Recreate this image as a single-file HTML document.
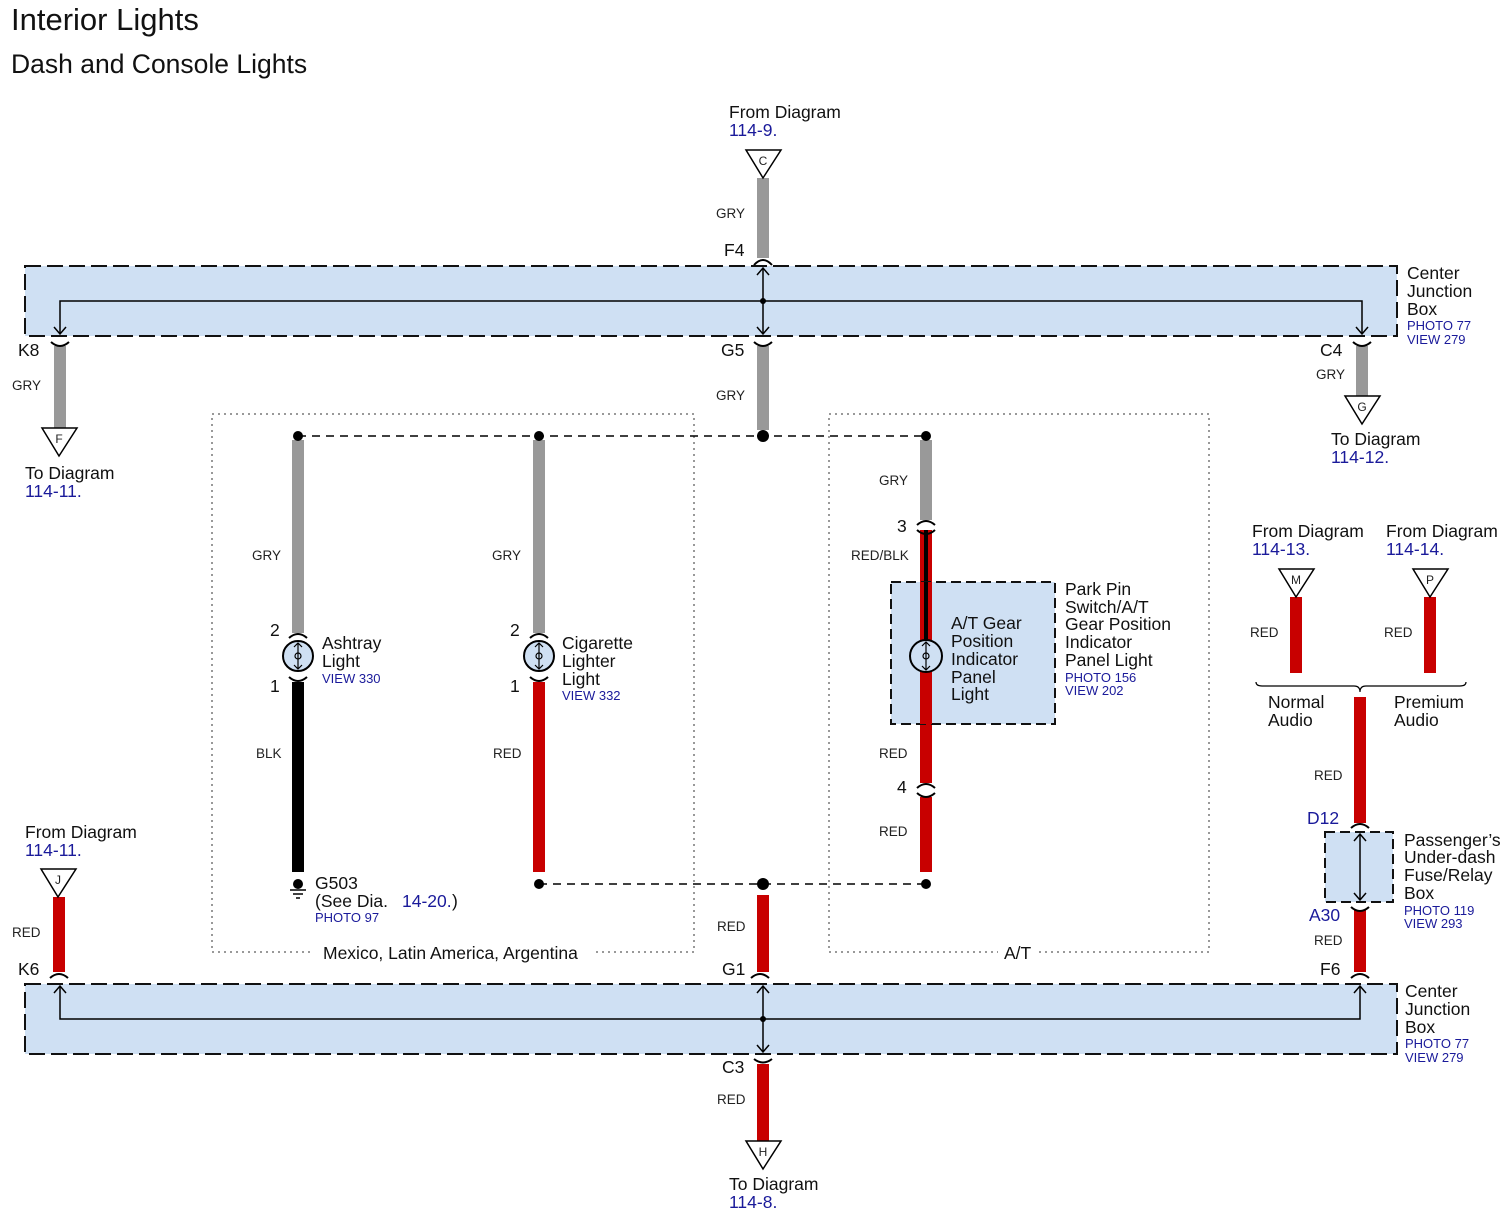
<!DOCTYPE html>
<html><head><meta charset="utf-8"><style>
body{margin:0;background:#fff}
svg{display:block;font-family:"Liberation Sans",Arial,sans-serif}
.t{font-size:17.5px;fill:#111}
.w{font-size:13.5px;fill:#222}
.b{font-size:13px;fill:#1a1a9a}
.bl{font-size:17.5px;fill:#1a1a9a}
</style></head><body>
<svg width="1510" height="1223" viewBox="0 0 1510 1223">
<text x="11" y="30" style="font-size:31px" fill="#111">Interior Lights</text>
<text x="11" y="73" style="font-size:26.5px" fill="#111">Dash and Console Lights</text>

<rect x="25" y="266" width="1372" height="70" fill="#cfe0f3" stroke="#111" stroke-width="2" stroke-dasharray="16,6"/>
<path d="M60,334 V301 H1362 V334" fill="none" stroke="#000" stroke-width="1.5"/>
<path d="M54,327 L60,334 L66,327 M1356,327 L1362,334 L1368,327" fill="none" stroke="#000" stroke-width="1.5"/>
<line x1="763" y1="268" x2="763" y2="334" stroke="#000" stroke-width="1.5"/>
<path d="M757,275 L763,268 L769,275 M757,327 L763,334 L769,327" fill="none" stroke="#000" stroke-width="1.5"/>
<circle cx="763" cy="301" r="3"/>
<text x="1407" y="279" class="t">Center</text><text x="1407" y="297" class="t">Junction</text><text x="1407" y="315" class="t">Box</text>
<text x="1407" y="330" class="b">PHOTO 77</text><text x="1407" y="344" class="b">VIEW 279</text>

<rect x="25" y="984" width="1372" height="70" fill="#cfe0f3" stroke="#111" stroke-width="2" stroke-dasharray="16,6"/>
<path d="M60,986 V1019 H1360 V986" fill="none" stroke="#000" stroke-width="1.5"/>
<path d="M54,993 L60,986 L66,993 M1354,993 L1360,986 L1366,993" fill="none" stroke="#000" stroke-width="1.5"/>
<line x1="763" y1="986" x2="763" y2="1052" stroke="#000" stroke-width="1.5"/>
<path d="M757,993 L763,986 L769,993 M757,1045 L763,1052 L769,1045" fill="none" stroke="#000" stroke-width="1.5"/>
<circle cx="763" cy="1019" r="3"/>
<text x="1405" y="997" class="t">Center</text><text x="1405" y="1015" class="t">Junction</text><text x="1405" y="1033" class="t">Box</text>
<text x="1405" y="1048" class="b">PHOTO 77</text><text x="1405" y="1062" class="b">VIEW 279</text>

<rect x="212" y="414" width="482" height="538" fill="none" stroke="#333" stroke-width="1" stroke-dasharray="2,4"/>
<rect x="829" y="414" width="380" height="538" fill="none" stroke="#333" stroke-width="1" stroke-dasharray="2,4"/>
<rect x="312" y="942" width="282" height="20" fill="#fff"/>
<text x="323" y="959" class="t">Mexico, Latin America, Argentina</text>
<rect x="998" y="942" width="40" height="20" fill="#fff"/>
<text x="1004" y="959" class="t">A/T</text>

<g>
<rect x="757" y="178" width="12" height="80" fill="#999"/>
<rect x="757" y="346" width="12" height="84" fill="#999"/>
<rect x="54" y="346" width="12" height="82" fill="#999"/>
<rect x="1356" y="346" width="12" height="50" fill="#999"/>
<rect x="292" y="440" width="12" height="193" fill="#999"/>
<rect x="292" y="682" width="12" height="190" fill="#000"/>
<rect x="533" y="440" width="12" height="193" fill="#999"/>
<rect x="533" y="682" width="12" height="190" fill="#c80000"/>
<rect x="920" y="440" width="12" height="80" fill="#999"/>
<rect x="920" y="530" width="12" height="115" fill="#c80000"/>
<rect x="924" y="530" width="4" height="115" fill="#000"/>
<rect x="920" y="668" width="12" height="115" fill="#c80000"/>
<rect x="920" y="797" width="12" height="75" fill="#c80000"/>
<rect x="757" y="895" width="12" height="77" fill="#c80000"/>
<rect x="757" y="1064" width="12" height="77" fill="#c80000"/>
<rect x="53" y="897" width="12" height="75" fill="#c80000"/>
<rect x="1290" y="597" width="12" height="76" fill="#c80000"/>
<rect x="1424" y="597" width="12" height="76" fill="#c80000"/>
<rect x="1354" y="697" width="12" height="126" fill="#c80000"/>
<rect x="1354" y="910" width="12" height="62" fill="#c80000"/>
</g>

<g fill="none" stroke="#000" stroke-width="2">
<path d="M754,265 Q763,255 772,265"/><path d="M754,342 Q763,350 772,342"/>
<path d="M51,342 Q60,350 69,342"/><path d="M1353,342 Q1362,350 1371,342"/>
<path d="M751,978 Q760,970 769,978"/><path d="M754,1059 Q763,1066 772,1059"/>
<path d="M50,978 Q59,970 68,978"/><path d="M1351,978 Q1360,970 1369,978"/>
<path d="M289,638 Q298,630 307,638"/><path d="M289,677 Q298,685 307,677"/>
<path d="M530,638 Q539,630 548,638"/><path d="M530,677 Q539,685 548,677"/>
<path d="M917,525 Q926,517 935,525"/><path d="M917,530 Q926,538 935,530"/>
<path d="M917,650 Q926,642 935,650"/><path d="M917,663 Q926,671 935,663"/>
<path d="M917,788 Q926,780 935,788"/><path d="M917,793 Q926,801 935,793"/>
<path d="M1351,828 Q1360,820 1369,828"/><path d="M1351,907 Q1360,915 1369,907"/>
</g>

<line x1="298" y1="436" x2="926" y2="436" stroke="#000" stroke-width="1.5" stroke-dasharray="8,6"/>
<line x1="539" y1="884" x2="926" y2="884" stroke="#000" stroke-width="1.5" stroke-dasharray="8,6"/>
<g fill="#000"><circle cx="298" cy="436" r="5"/><circle cx="539" cy="436" r="5"/><circle cx="763" cy="436" r="6"/><circle cx="926" cy="436" r="5"/>
<circle cx="539" cy="884" r="5"/><circle cx="763" cy="884" r="6"/><circle cx="926" cy="884" r="5"/></g>

<circle cx="298" cy="884" r="5"/>
<path d="M290,890 H306 M293,894 H303 M296,898 H300" stroke="#000" stroke-width="1.5"/>

<rect x="891" y="582" width="164" height="142" fill="#cfe0f3" stroke="#111" stroke-width="2" stroke-dasharray="10,5"/>
<rect x="920" y="582" width="12" height="63" fill="#c80000"/><rect x="924" y="582" width="4" height="63" fill="#000"/>
<rect x="920" y="668" width="12" height="56" fill="#c80000"/>

<g stroke="#000" stroke-width="2" fill="#cfe0f3">
<circle cx="298" cy="656" r="15"/><circle cx="539" cy="656" r="15"/><circle cx="926" cy="656" r="16"/>
</g>
<g stroke="#000" stroke-width="1.2" fill="none">
<path d="M298,643 V669 M294,647 L298,643 L302,647 M294,665 L298,669 L302,665 M295,656 a3,3 0 1 1 6,0 a3,3 0 1 1 -6,0"/>
<path d="M539,643 V669 M535,647 L539,643 L543,647 M535,665 L539,669 L543,665 M536,656 a3,3 0 1 1 6,0 a3,3 0 1 1 -6,0"/>
<path d="M926,642 V670 M922,646 L926,642 L930,646 M922,666 L926,670 L930,666 M923,656 a3,3 0 1 1 6,0 a3,3 0 1 1 -6,0"/>
</g>

<rect x="1325" y="832" width="68" height="70" fill="#cfe0f3" stroke="#111" stroke-width="2" stroke-dasharray="10,5"/>
<line x1="1360" y1="834" x2="1360" y2="900" stroke="#000" stroke-width="1.5"/>
<path d="M1354,841 L1360,834 L1366,841 M1354,893 L1360,900 L1366,893" fill="none" stroke="#000" stroke-width="1.5"/>

<path d="M1256,682 Q1256,686 1262,686 H1354 Q1360,686 1360,692 Q1360,686 1366,686 H1460 Q1466,686 1466,682" fill="none" stroke="#000" stroke-width="1.2"/>

<g fill="#fff" stroke="#000" stroke-width="1.5">
<path d="M746,150 H781 L763,178 Z"/>
<path d="M42,428 H77 L59,456 Z"/>
<path d="M1345,396 H1380 L1362,424 Z"/>
<path d="M41,869 H76 L58,897 Z"/>
<path d="M1279,569 H1314 L1296,597 Z"/>
<path d="M1413,569 H1448 L1430,597 Z"/>
<path d="M746,1141 H781 L763,1169 Z"/>
</g>
<g class="w" text-anchor="middle" style="font-size:12px">
<text x="763" y="165">C</text><text x="59" y="443">F</text><text x="1362" y="411">G</text><text x="58" y="884">J</text>
<text x="1296" y="584">M</text><text x="1430" y="584">P</text><text x="763" y="1156">H</text>
</g>

<text x="729" y="118" class="t">From Diagram</text><text x="729" y="136" class="bl">114-9.</text>
<text x="25" y="479" class="t">To Diagram</text><text x="25" y="497" class="bl">114-11.</text>
<text x="1331" y="445" class="t">To Diagram</text><text x="1331" y="463" class="bl">114-12.</text>
<text x="25" y="838" class="t">From Diagram</text><text x="25" y="856" class="bl">114-11.</text>
<text x="1252" y="537" class="t">From Diagram</text><text x="1252" y="555" class="bl">114-13.</text>
<text x="1386" y="537" class="t">From Diagram</text><text x="1386" y="555" class="bl">114-14.</text>
<text x="729" y="1190" class="t">To Diagram</text><text x="729" y="1208" class="bl">114-8.</text>

<text x="724" y="256" class="t">F4</text>
<text x="721" y="356" class="t">G5</text>
<text x="18" y="356" class="t">K8</text>
<text x="1320" y="356" class="t">C4</text>
<text x="18" y="975" class="t">K6</text>
<text x="722" y="975" class="t">G1</text>
<text x="1320" y="975" class="t">F6</text>
<text x="722" y="1073" class="t">C3</text>
<text x="1307" y="824" class="bl">D12</text>
<text x="1309" y="921" class="bl">A30</text>

<text x="716" y="218" class="w">GRY</text>
<text x="716" y="400" class="w">GRY</text>
<text x="12" y="390" class="w">GRY</text>
<text x="1316" y="379" class="w">GRY</text>
<text x="252" y="560" class="w">GRY</text>
<text x="492" y="560" class="w">GRY</text>
<text x="879" y="485" class="w">GRY</text>
<text x="851" y="560" class="w">RED/BLK</text>
<text x="256" y="758" class="w">BLK</text>
<text x="493" y="758" class="w">RED</text>
<text x="879" y="758" class="w">RED</text>
<text x="879" y="836" class="w">RED</text>
<text x="717" y="931" class="w">RED</text>
<text x="12" y="937" class="w">RED</text>
<text x="717" y="1104" class="w">RED</text>
<text x="1250" y="637" class="w">RED</text>
<text x="1384" y="637" class="w">RED</text>
<text x="1314" y="780" class="w">RED</text>
<text x="1314" y="945" class="w">RED</text>

<text x="270" y="636" class="t">2</text><text x="270" y="692" class="t">1</text>
<text x="510" y="636" class="t">2</text><text x="510" y="692" class="t">1</text>
<text x="897" y="532" class="t">3</text><text x="897" y="793" class="t">4</text>

<text x="322" y="649" class="t">Ashtray</text><text x="322" y="667" class="t">Light</text><text x="322" y="683" class="b">VIEW 330</text>
<text x="562" y="649" class="t">Cigarette</text><text x="562" y="667" class="t">Lighter</text><text x="562" y="685" class="t">Light</text><text x="562" y="700" class="b">VIEW 332</text>
<text x="951" y="629" class="t">A/T Gear</text><text x="951" y="647" class="t">Position</text><text x="951" y="665" class="t">Indicator</text><text x="951" y="683" class="t">Panel</text><text x="951" y="700" class="t">Light</text>
<text x="1065" y="595" class="t">Park Pin</text><text x="1065" y="613" class="t">Switch/A/T</text><text x="1065" y="630" class="t">Gear Position</text><text x="1065" y="648" class="t">Indicator</text><text x="1065" y="666" class="t">Panel Light</text>
<text x="1065" y="682" class="b">PHOTO 156</text><text x="1065" y="695" class="b">VIEW 202</text>
<text x="315" y="889" class="t">G503</text><text x="315" y="907" class="t">(See Dia.</text><text x="402" y="907" class="bl">14-20.</text><text x="452" y="907" class="t">)</text>
<text x="315" y="922" class="b">PHOTO 97</text>
<text x="1268" y="708" class="t">Normal</text><text x="1268" y="726" class="t">Audio</text>
<text x="1394" y="708" class="t">Premium</text><text x="1394" y="726" class="t">Audio</text>
<text x="1404" y="846" class="t">Passenger’s</text><text x="1404" y="863" class="t">Under-dash</text><text x="1404" y="881" class="t">Fuse/Relay</text><text x="1404" y="899" class="t">Box</text>
<text x="1404" y="915" class="b">PHOTO 119</text><text x="1404" y="928" class="b">VIEW 293</text>
</svg>
</body></html>
